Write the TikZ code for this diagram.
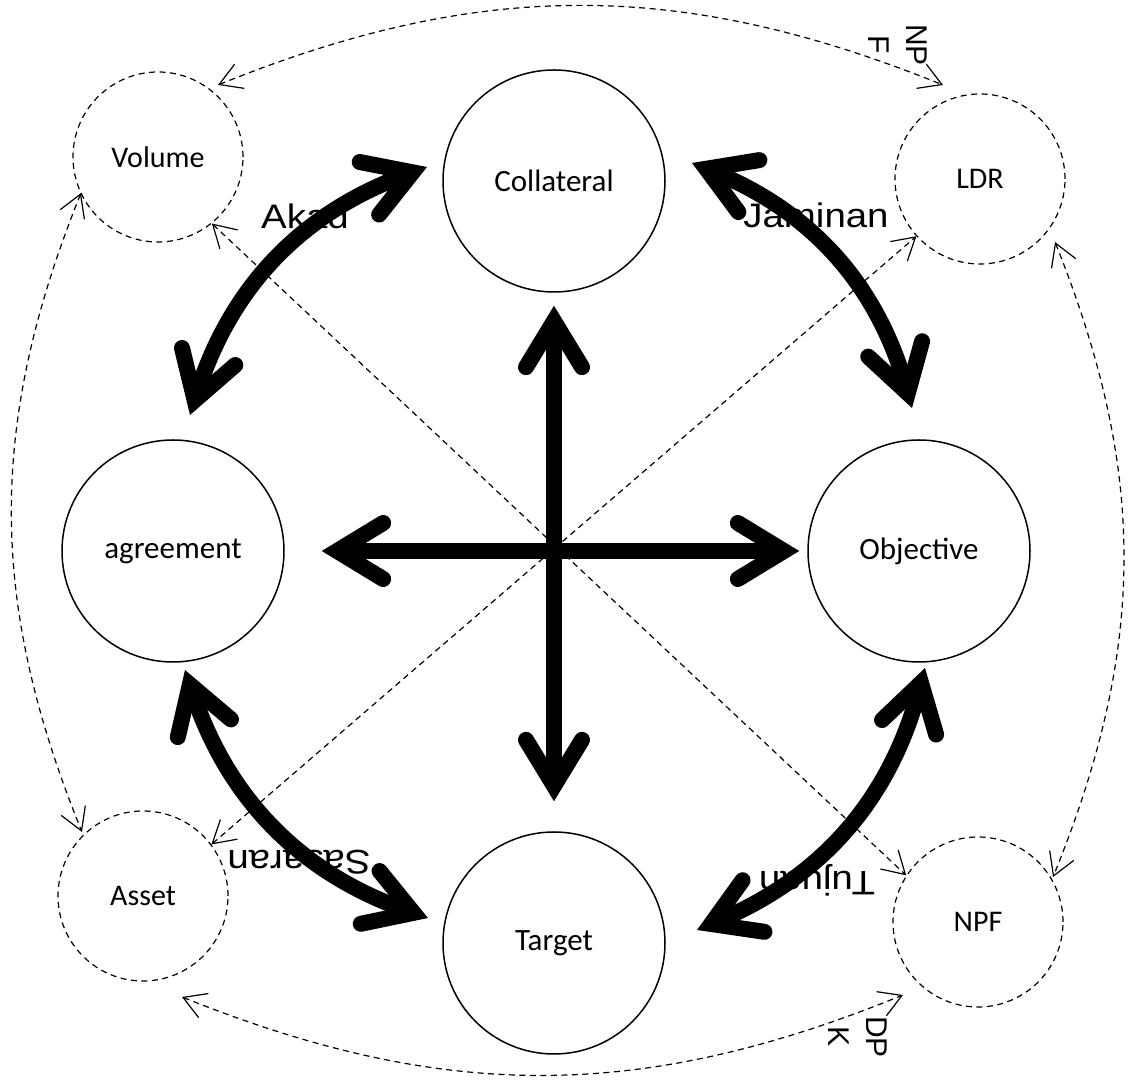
\documentclass[tikz,border=0pt]{standalone}
\usepackage{fontspec}
\setmainfont{Carlito}
\newfontfamily\labelfont{Liberation Sans}
\usetikzlibrary{arrows.meta}
\begin{document}
\begin{tikzpicture}[x=1pt,y=1pt,
  bigc/.style={circle, draw, line width=1.5pt, minimum size=222pt, inner sep=0pt, font=\fontsize{31}{36}\selectfont},
  smallc/.style={circle, draw, dash pattern=on 6pt off 4.5pt, line width=1.2pt, minimum size=170pt, inner sep=0pt, font=\fontsize{30}{36}\selectfont},
  bigtip/.tip={Straight Barb[length=46pt,width=56pt,line cap=round,line join=miter]},
  thintip/.tip={Straight Barb[length=22pt,width=26pt]},
  bigarrow/.style={line width=16pt, bigtip-bigtip},
  dasharrow/.style={line width=1.2pt, dash pattern=on 6pt off 4.5pt, thintip-thintip},
  arclabel/.style={font=\labelfont\fontsize{34}{40}\selectfont, xscale=1.13, inner sep=0pt},
  sidelabel/.style={font=\labelfont\fontsize{30}{38}\selectfont, align=center, rotate=-90, inner sep=0pt},
]
\useasboundingbox (0,0) rectangle (1133,1081);

% main circles
\node[bigc] (collateral) at (554,900) {Collateral};
\node[bigc] (agreement) at (173,530) {agreement};
\node[bigc] (objective) at (919,530) {Objective};
\node[bigc] (target) at (554,138) {Target};

% ratio circles
\node[smallc] (volume) at (158,924) {Volume};
\node[smallc] (ldr) at (980,902) {LDR};
\node[smallc] (asset) at (143,185) {Asset};
\node[smallc] (npf) at (978,159) {NPF};

% labels on the arcs
\node[arclabel] (akad) at (305,865) {Akad};
\node[arclabel] (jaminan) at (816,866) {Jaminan};
\node[arclabel, rotate=180] (sasaran) at (299,219) {Sasaran};
\node[arclabel, rotate=180] (tujuan) at (817,201) {Tujuan};
\node[sidelabel] (npfnote) at (898,1036) {NP\\F};
\node[sidelabel] (dpknote) at (858,44) {DP\\K};

% dashed diagonals through the middle
\draw[dasharrow] (volume.-51) -- (npf.147);
\draw[dasharrow] (asset.37) -- (ldr.-138);

% dashed outer ring
\coordinate (vT) at ([shift={(60,72)}]volume.center);
\coordinate (lT) at ([shift={(-37,94)}]ldr.center);
\draw[dasharrow] (vT) to[bend left=22] (lT);
\coordinate (vL) at ([shift={(-77,-36)}]volume.center);
\coordinate (aL) at ([shift={(-61,64)}]asset.center);
\draw[dasharrow] (vL) to[bend right=22] (aL);
\coordinate (lR) at ([shift={(75,-63)}]ldr.center);
\coordinate (nR) at ([shift={(75,45)}]npf.center);
\draw[dasharrow] (lR) to[bend left=22] (nR);
\coordinate (aB) at ([shift={(39,-101)}]asset.center);
\coordinate (nB) at ([shift={(-75,-73)}]npf.center);
\draw[dasharrow] (aB) to[bend right=22] (nB);

% central cross
\draw[bigarrow, shorten <=37pt, shorten >=8pt] (agreement) -- (objective);
\draw[bigarrow, shorten <=13pt, shorten >=30pt] (collateral) -- (target);

% curved arrows between neighbouring circles
\coordinate (akadA) at ([shift={(17,136)}]agreement.center);
\coordinate (akadB) at ([shift={(-127,14)}]collateral.center);
\draw[bigarrow] (akadA) to[bend left=26] (akadB);
\coordinate (jamA) at ([shift={(138,18)}]collateral.center);
\coordinate (jamB) at ([shift={(-7,143)}]objective.center);
\draw[bigarrow] (jamA) to[bend left=26] (jamB);
\coordinate (sasA) at ([shift={(12,-119)}]agreement.center);
\coordinate (sasB) at ([shift={(-126,25)}]target.center);
\draw[bigarrow] (sasA) to[bend right=26] (sasB);
\coordinate (tujA) at ([shift={(6,-117)}]objective.center);
\coordinate (tujB) at ([shift={(143,13)}]target.center);
\draw[bigarrow] (tujA) to[bend left=26] (tujB);
\end{tikzpicture}
\end{document}
